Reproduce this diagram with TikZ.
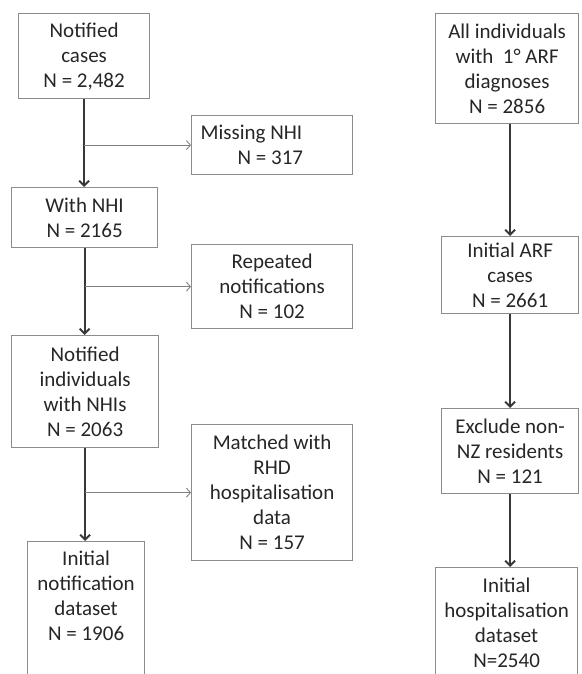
\documentclass[tikz,border=0pt]{standalone}
\usepackage{fontspec}
\setmainfont{Carlito}
\usetikzlibrary{arrows.meta}
\tikzset{
>={Straight Barb[length=5pt, width=10pt]}, % open arrow heads
box/.style={draw=black!45, line width=1.2pt, inner sep=0pt, align=center, text=black!85, font=\fontsize{21}{25}\selectfont}, % every box
main/.style={->, draw=black!78, line width=1.9pt}, % arrows down a column
side/.style={-{Straight Barb[length=4pt, width=9pt]}, draw=black!50, line width=0.9pt}, % arrows out to the side boxes
}

\begin{document}
\begin{tikzpicture}[x=1pt, y=-1pt]
        \useasboundingbox (0,0) rectangle (581,674);
        \clip (0,0) rectangle (581,674);

        \node[box, anchor=north west, minimum width=131pt, minimum height=85pt] (Cases) at (18,13) {Notified\\cases\\N = 2,482};
        \node[box, anchor=north west, minimum width=146pt, minimum height=60pt] (NHI) at (11,187) {With NHI\\N = 2165};
        \node[box, anchor=north west, minimum width=147pt, minimum height=112pt] (Indiv) at (11,335) {Notified\\individuals\\with NHIs\\N = 2063};
        \node[box, anchor=north west, minimum width=117pt, text height=99pt, text depth=60pt] (Notif) at (27,541) {Initial\\notification\\dataset\\N = 1906};

        \node[box, anchor=north west, text width=161pt, minimum height=59pt, align=flush left] (Miss) at (191,115) {\hspace*{9pt}Missing NHI\\\hspace*{46pt}N = 317};
        \node[box, anchor=north west, minimum width=161pt, minimum height=84pt] (Rep) at (191,244) {Repeated\\notifications\\N = 102};
        \node[box, anchor=north west, minimum width=161pt, minimum height=136pt] (Match) at (191,424) {Matched with\\RHD\\hospitalisation\\data\\N = 157};

        \node[box, anchor=north west, minimum width=143pt, minimum height=110pt] (All) at (435,13) {All individuals\\with~ 1° ARF\\diagnoses\\N = 2856};
        \node[box, anchor=north west, minimum width=137pt, minimum height=77pt] (ARF) at (441,236) {Initial ARF\\cases\\N = 2661};
        \node[box, anchor=north west, minimum width=137pt, minimum height=85pt] (Excl) at (441,408) {Exclude non-\\NZ residents\\N = 121};
        \node[box, anchor=north west, minimum width=142pt, text height=100pt, text depth=60pt] (Hosp) at (435,567) {Initial\\hospitalisation\\dataset\\N=2540};

        \draw[main] (Cases.south) -- (Cases.south |- NHI.north);
        \draw[main] (NHI.south) -- (NHI.south |- Indiv.north);
        \draw[main] (Indiv.south) -- (Indiv.south |- Notif.north);

        \coordinate (B1) at (Cases.south |- Miss.west);
        \coordinate (B2) at (NHI.south |- Rep.west);
        \coordinate (B3) at (Indiv.south |- Match.west);
        \draw[side] (B1) -- (Miss.west);
        \draw[side] (B2) -- (Rep.west);
        \draw[side] (B3) -- (Match.west);

        \draw[main] (All.south -| ARF.north) -- (ARF.north);
        \draw[main] (ARF.south) -- (ARF.south |- Excl.north);
        \draw[main] (Excl.south) -- (Excl.south |- Hosp.north);
    \end{tikzpicture}
\end{document}
